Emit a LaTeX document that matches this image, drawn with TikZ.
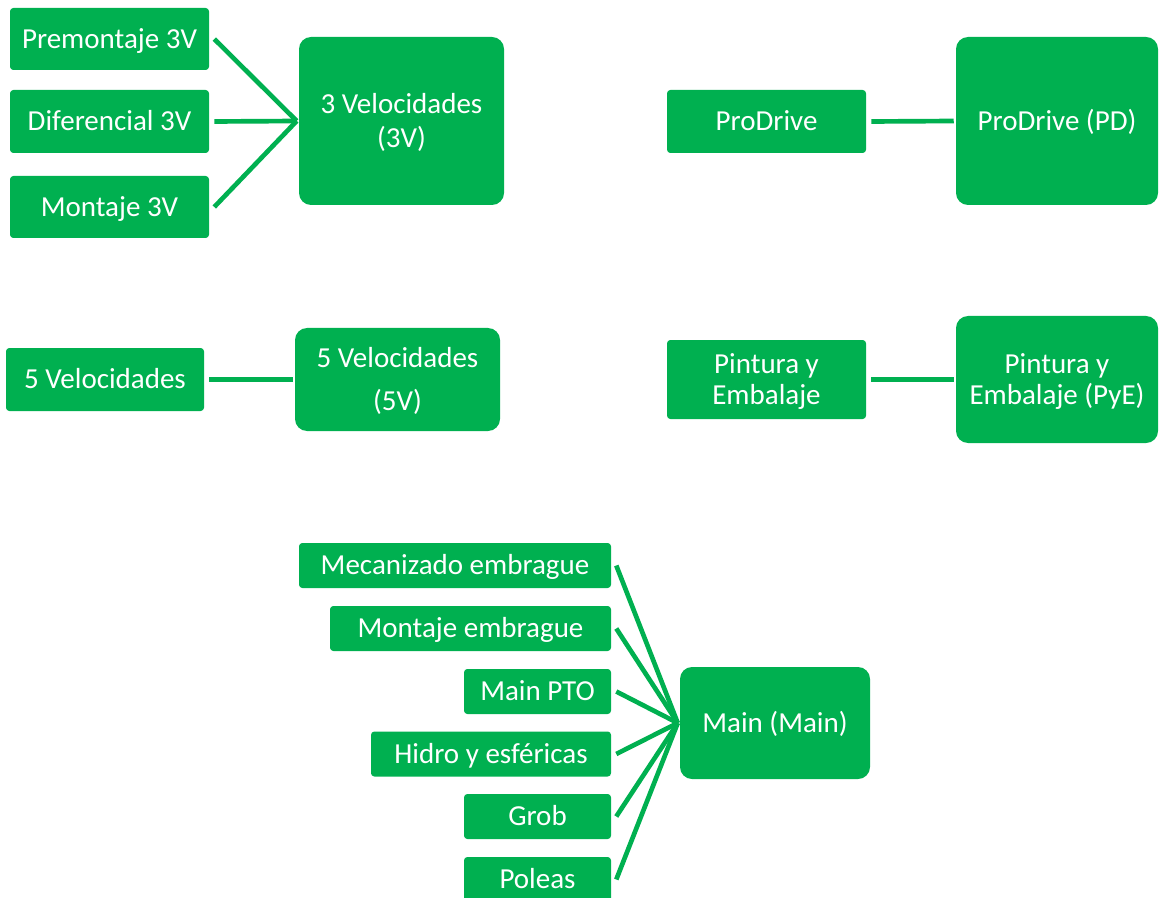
\documentclass[tikz,border=0pt]{standalone}
\usepackage{fontspec}
\setmainfont{Carlito}
\usetikzlibrary{calc}
\definecolor{boxgreen}{HTML}{00B050}
\begin{document}
\begin{tikzpicture}[x=0.75pt,y=-0.75pt,
  box/.style 2 args={fill=boxgreen, text=white, align=center, inner sep=0pt,
    minimum width={#1*0.75pt}, minimum height={#2*0.75pt},
    font=\fontsize{21.75pt}{23.25pt}\selectfont, text depth=1pt},
  oneline/.style={text height=15pt},
  small/.style 2 args={box={#1}{#2}, rounded corners=2.5pt},
  big/.style 2 args={box={#1}{#2}, rounded corners=9pt},
  conn/.style={draw=boxgreen, line width=3.5pt}]
\clip (0,0) rectangle (1159,898);

% 3 Velocidades
\node[small={199}{62},oneline] (pre)  at (109.5,39)    {Premontaje 3V};
\node[small={199}{63},oneline] (dif)  at (109.5,121.5) {Diferencial 3V};
\node[small={199}{62},oneline] (mon3) at (109.5,207)   {Montaje 3V};
\node[big={205}{168}]          (v3)   at (401.5,121)   {3 Velocidades\\[2pt](3V)};

% ProDrive
\node[small={199}{63},oneline] (prod) at (766.5,121.5) {ProDrive};
\node[big={202}{168},oneline]  (pd)   at (1057,121)    {ProDrive (PD)};

% 5 Velocidades
\node[small={198}{63},oneline] (v5s)  at (105,379.5)   {5 Velocidades};
\node[big={205}{103}]          (v5)   at (397.5,379.5) {5 Velocidades\\[9pt](5V)};

% Pintura y Embalaje
\node[small={199}{79}]         (pyes) at (766.5,379.5) {Pintura y\\Embalaje};
\node[big={202}{127}]          (pye)  at (1057,379.5)  {Pintura y\\Embalaje (PyE)};

% Main
\node[small={312}{45},oneline] (mec)  at (455,565.5)   {Mecanizado embrague};
\node[small={281}{45},oneline] (memb) at (470.5,628.5) {Montaje embrague};
\node[small={147}{45},oneline] (pto)  at (537.5,691.5) {Main PTO};
\node[small={240}{45},oneline] (hid)  at (491,754)     {Hidro y esféricas};
\node[small={147}{45},oneline] (grob) at (537.5,816.5) {Grob};
\node[small={147}{45},oneline] (pol)  at (537.5,879.5) {Poleas};
\node[big={190}{112},oneline]  (main) at (775,723)     {Main (Main)};

% connectors
\foreach \a/\b in {pre/v3, dif/v3, mon3/v3, prod/pd, v5s/v5, pyes/pye,
                   mec/main, memb/main, pto/main, hid/main, grob/main, pol/main}
  \draw[conn] ($(\a.east)+(5,0)$) -- ($(\b.west)+(-2,0)$);
\end{tikzpicture}
\end{document}
